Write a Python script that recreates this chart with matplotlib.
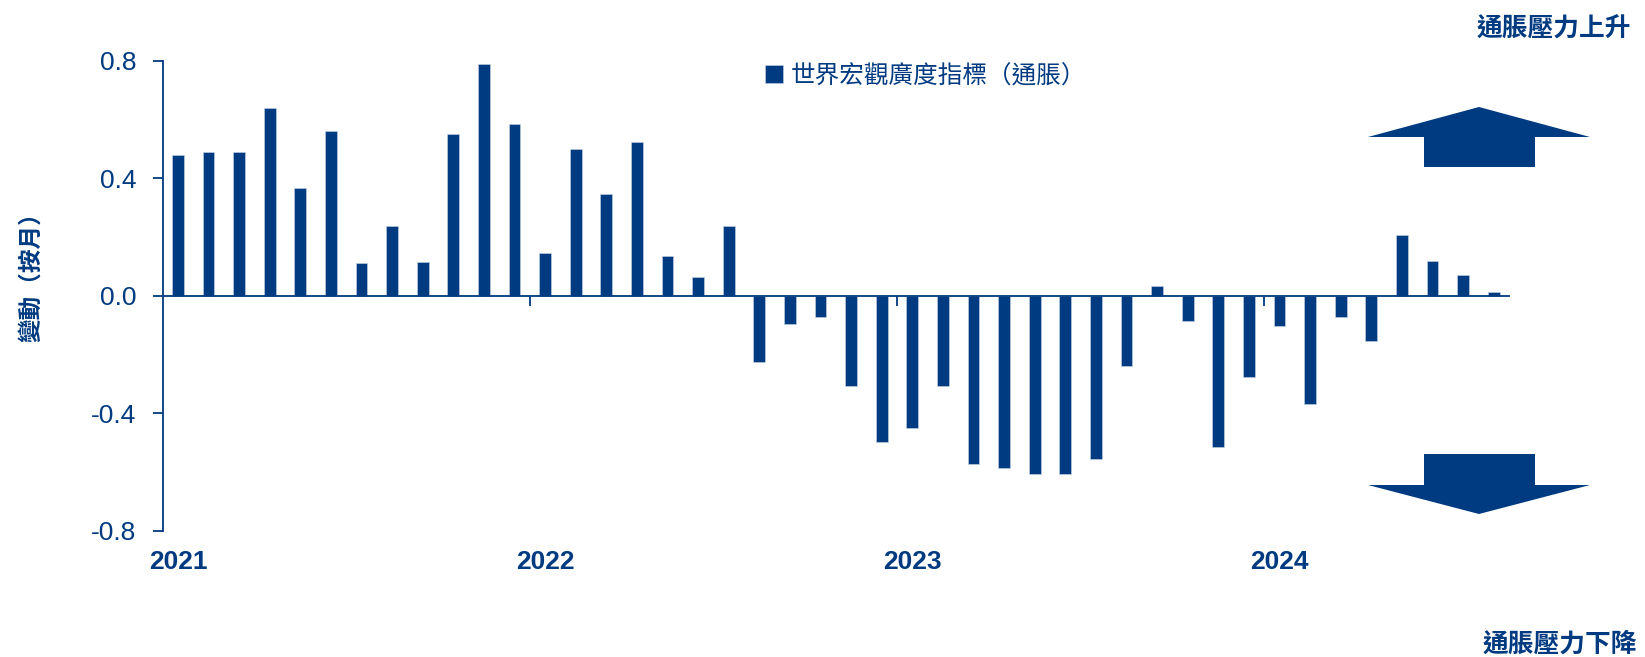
import matplotlib
matplotlib.use("Agg")
import matplotlib.pyplot as plt
from matplotlib.patches import Polygon
from matplotlib.transforms import blended_transform_factory

plt.rcParams['font.family'] = ['Liberation Sans', 'Noto Sans CJK TC']

NAVY = '#003A80'

months = [f"{y}-{m:02d}" for y in range(2021, 2025) for m in range(1, 13)][:44]
values = [0.479, 0.489, 0.489, 0.639, 0.368, 0.561, 0.111, 0.239, 0.114, 0.550, 0.789, 0.586,
          0.146, 0.500, 0.346, 0.525, 0.136, 0.064, 0.239, -0.225, -0.096, -0.071, -0.307, -0.496,
          -0.450, -0.307, -0.571, -0.586, -0.607, -0.607, -0.554, -0.239, 0.032, -0.086, -0.514, -0.275,
          -0.104, -0.368, -0.071, -0.154, 0.207, 0.118, 0.071, 0.014]
year_labels = ['2021', '2022', '2023', '2024']
yticks = [-0.8, -0.4, 0.0, 0.4, 0.8]
series_label = '世界宏觀廣度指標（通脹）'
ylabel = '變動（按月）'
up_text = '通脹壓力上升'
down_text = '通脹壓力下降'

W, H = 1645, 657
fig = plt.figure(figsize=(W / 100, H / 100), dpi=100)
ax = fig.add_axes([162.6 / W, 1 - 531 / H, (1509 - 162.6) / W, (531 - 60.8) / H])

x = list(range(len(values)))
bars = ax.bar(x, values, width=0.39, color=NAVY, edgecolor='#c8d4e6', linewidth=0.4, zorder=2)

ax.set_xlim(-0.5, len(values) - 0.5)
ax.set_ylim(-0.8, 0.8)

for s in ['top', 'right']:
    ax.spines[s].set_visible(False)
ax.spines['bottom'].set_position(('data', 0))
ax.spines['bottom'].set_color(NAVY)
ax.spines['bottom'].set_linewidth(1.3)
ax.spines['bottom'].set_zorder(3)
ax.spines['left'].set_color(NAVY)
ax.spines['left'].set_linewidth(1.3)

ax.set_yticks(yticks)
ax.set_yticklabels([f"{v:.1f}" for v in yticks])
ax.tick_params(axis='y', direction='out', length=7, width=1.3, color=NAVY,
               labelcolor=NAVY, labelsize=19, pad=12)

year_starts = [i for i, m in enumerate(months) if m.endswith('-01')]
ax.set_xticks([i - 0.5 for i in year_starts[1:]])
ax.set_xticklabels([])
ax.tick_params(axis='x', direction='out', length=7, width=1.3, color=NAVY)

trans = blended_transform_factory(ax.transData, ax.transAxes)
for i, lab in zip(year_starts, year_labels):
    ax.text(i, -0.066, lab, transform=trans, ha='center', va='center',
            fontsize=19, fontweight='bold', color=NAVY)

fig.text(31 / W, 1 - 271 / H, ylabel, rotation=90, ha='center', va='center',
         fontsize=17, fontweight='bold', color=NAVY)

fig.text(1631 / W, 1 - 29 / H, up_text, ha='right', va='center',
         fontsize=18.5, fontweight='bold', color=NAVY)
fig.text(1637 / W, 1 - 644 / H, down_text, ha='right', va='center',
         fontsize=18.5, fontweight='bold', color=NAVY)

leg = fig.legend([bars], [series_label], loc='center left',
                 bbox_to_anchor=(765 / W, 1 - 75.5 / H), frameon=False,
                 handlelength=0.75, handleheight=0.75, handletextpad=0.3,
                 borderpad=0, borderaxespad=0, fontsize=17.7)
for t in leg.get_texts():
    t.set_color(NAVY)
for p in leg.get_patches():
    p.set_width(p.get_height())

def fig_poly(pts):
    return Polygon([(px / W, 1 - py / H) for px, py in pts], closed=True,
                   transform=fig.transFigure, facecolor=NAVY, edgecolor='none')

up = [(1479, 107), (1590, 137), (1535, 137), (1535, 167), (1424, 167), (1424, 137), (1368, 137)]
down = [(1424, 454), (1535, 454), (1535, 485), (1590, 485), (1479, 514), (1368, 485), (1424, 485)]
fig.patches.append(fig_poly(up))
fig.patches.append(fig_poly(down))

fig.savefig('out.png', dpi=100)
